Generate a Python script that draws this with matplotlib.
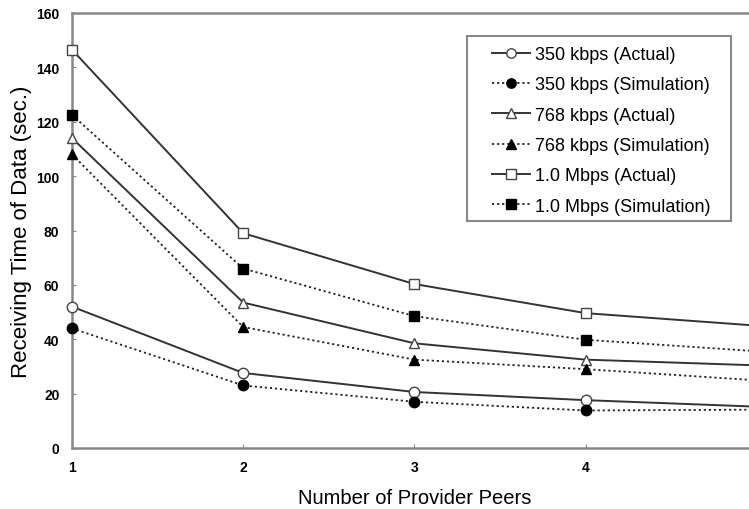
import numpy as np
import matplotlib
matplotlib.use("Agg")
import matplotlib.pyplot as plt
from matplotlib.patches import Rectangle

plt.rcParams['font.family'] = ['Liberation Sans', 'DejaVu Sans']

# number of provider peers
peers = [1, 2, 3, 4, 5]

# receiving time (sec.)
kbps350_actual = [52, 27.6, 20.6, 17.6, 15.2]
kbps350_sim = [44, 23, 17, 13.8, 14.1]
kbps768_actual = [114, 53.5, 38.5, 32.5, 30.4]
kbps768_sim = [108, 44.5, 32.5, 29, 24.9]
mbps10_actual = [146.5, 79, 60.3, 49.6, 45]
mbps10_sim = [122.5, 66, 48.5, 39.8, 35.6]

series = [
    ("350 kbps (Actual)", kbps350_actual, "o", False),
    ("350 kbps (Simulation)", kbps350_sim, "o", True),
    ("768 kbps (Actual)", kbps768_actual, "^", False),
    ("768 kbps (Simulation)", kbps768_sim, "^", True),
    ("1.0 Mbps (Actual)", mbps10_actual, "s", False),
    ("1.0 Mbps (Simulation)", mbps10_sim, "s", True),
]

W, H = 749, 510
fig = plt.figure(figsize=(W / 100, H / 100), dpi=100)
# axes run to x=5, a bit past the right edge of the picture
ax = fig.add_axes([72 / W, 1 - 449 / H, 685 / W, 435 / H])

for label, vals, mk, sim in series:
    if sim:
        ax.plot(peers, vals, color="#222222", lw=1.3, ls=(0, (1.2, 1.6)),
                marker=mk, ms=7.5, mfc="black", mec="black", label=label,
                clip_on=False, zorder=3)
    else:
        ax.plot(peers, vals, color="#333333", lw=1.4, ls="-",
                marker=mk, ms=7.5, mfc="white", mec="#444444", mew=1.0,
                label=label, clip_on=False, zorder=3)

ax.set_xlim(1, 5)
ax.set_ylim(0, 160)
ax.set_xticks([1, 2, 3, 4])
ax.set_yticks(np.arange(0, 161, 20))

for sp in ax.spines.values():
    sp.set_color("#888888")
    sp.set_linewidth(1.8)

ax.tick_params(direction="in", length=3, width=0.8, color="#888888",
               labelsize=10, pad=9)
for t in ax.get_xticklabels() + ax.get_yticklabels():
    t.set_fontweight("bold")

ax.set_xlabel("Number of Provider Peers", fontsize=14.5, labelpad=10)
ax.set_ylabel("Receiving Time of Data (sec.)", fontsize=16, labelpad=3)

# legend box: wider side padding than matplotlib's uniform borderpad
box = Rectangle((467 / W, 1 - 222 / H), 264 / W, 185 / H,
                transform=fig.transFigure, facecolor="white",
                edgecolor="#888888", lw=1.5, zorder=4, clip_on=False)
ax.add_patch(box)
leg = ax.legend(loc="upper left", bbox_to_anchor=(492 / W, 1 - 47 / H),
                bbox_transform=fig.transFigure, borderaxespad=0,
                borderpad=0, frameon=False, fontsize=13, markerscale=0.9,
                handlelength=2.1, handletextpad=0.3, labelspacing=0.74)
leg.set_zorder(5)

fig.savefig("out.png", dpi=100)
